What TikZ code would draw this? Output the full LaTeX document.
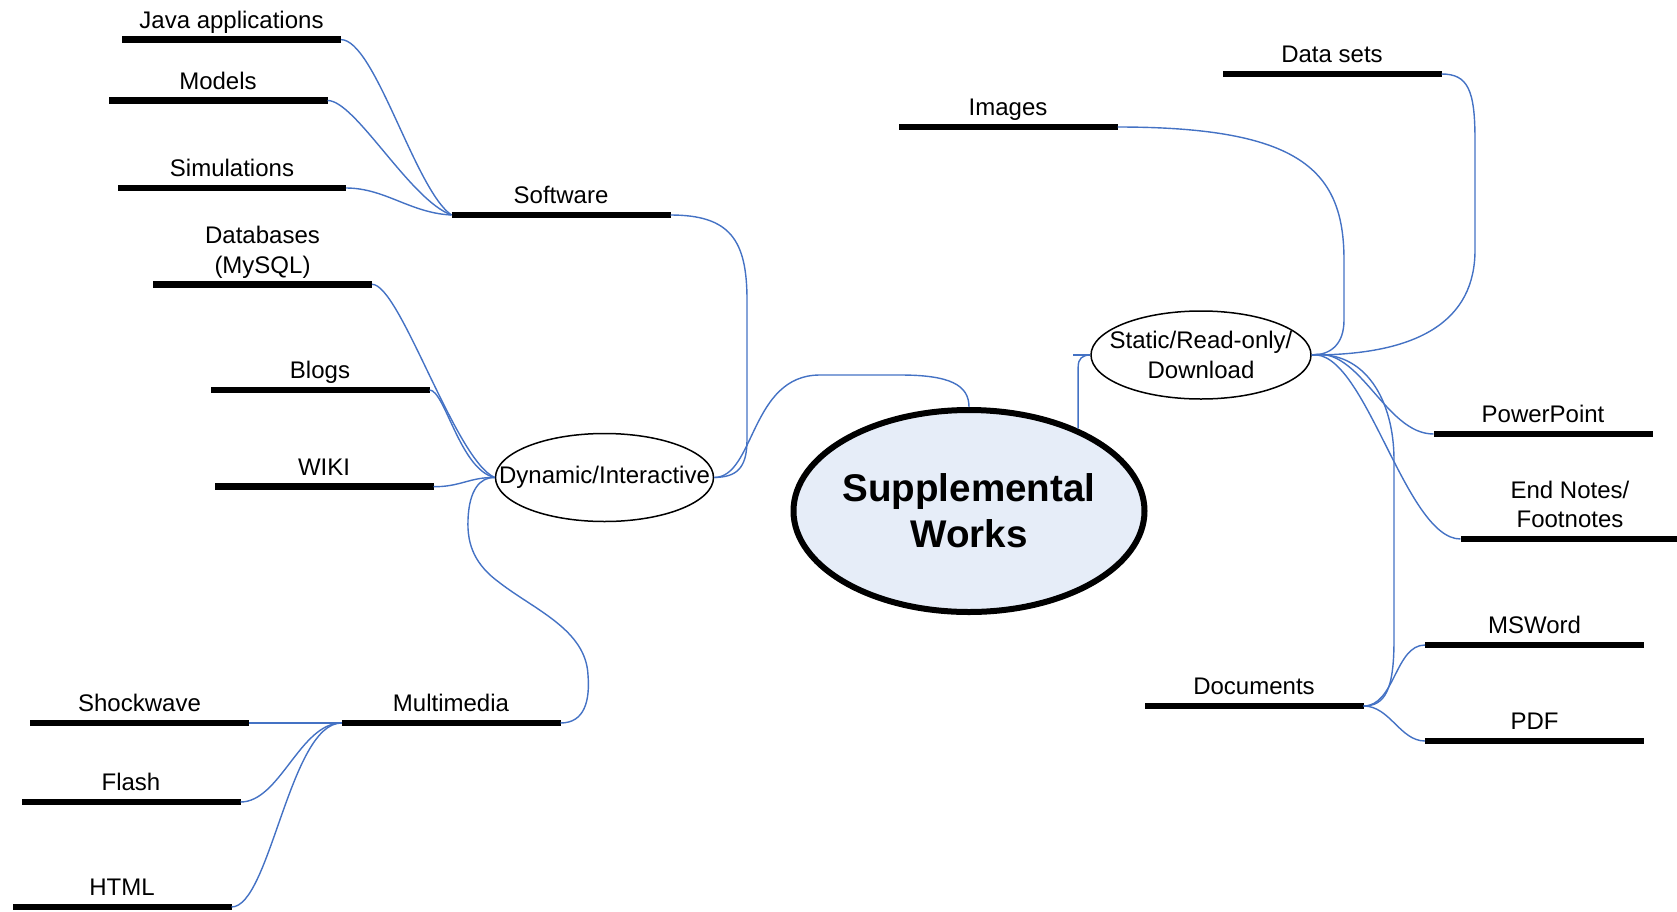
\documentclass[tikz,border=0pt]{standalone}
\usepackage{fontspec}
\setmainfont{Liberation Sans}
\usetikzlibrary{shapes.geometric}
\definecolor{linkblue}{RGB}{68,114,196}
\definecolor{corefill}{RGB}{230,237,248}
\begin{document}
\begin{tikzpicture}[x=0.5pt,y=-0.5pt,
  conn/.style={draw=linkblue, line width=0.7pt},
  bar/.style={fill=black, inner sep=0pt, outer sep=0pt, minimum width=109.5pt, minimum height=3.3pt, label distance=1.9pt},
  lbl/.style={font=\fontsize{12}{15}\selectfont, inner sep=0pt, text depth=0.22em, yshift=1.6pt},
  lbltwo/.style={font=\fontsize{12}{14.8}\selectfont, inner sep=0pt, align=center},
  bubble/.style={ellipse, draw=black, line width=0.75pt, inner sep=0pt, font=\fontsize{12}{15}\selectfont, align=center},
]
\useasboundingbox (0,0) rectangle (1677,911);

% core
\node[ellipse, draw=black, fill=corefill, line width=3pt, minimum width=175.5pt, minimum height=101pt, inner sep=0pt,
      font=\fontsize{19.3}{23}\selectfont\bfseries, align=center] (sw) at (969,511)
      {\makebox[0pt]{Supplemental}\\\makebox[0pt]{Works}};

% second level
\node[bubble, minimum width=109pt, minimum height=44pt] (dyn) at (604.5,477.5) {\makebox[0pt]{Dynamic/Interactive}};
\node[bubble, minimum width=110pt, minimum height=44pt] (st) at (1201,355) {\makebox[0pt]{Static/Read-only/}\\\makebox[0pt]{Download}};

% bars, left
\node[bar, label={[lbl,name=javaL]above:Java applications}] (java) at (231.5,39.6) {};
\node[bar, label={[lbl,name=modelsL]above:Models}] (models) at (218,100.5) {};
\node[bar, minimum width=114pt, label={[lbl,name=simL]above:Simulations}] (sim) at (232,188) {};
\node[bar, label={[lbl,name=softL]above:Software}] (soft) at (561,215) {};
\node[bar, label={[lbltwo,name=dbL,yshift=1.1pt]above:{Databases\\(MySQL)}}] (db) at (262.5,284.3) {};
\node[bar, label={[lbl,name=blogsL]above:Blogs}] (blogs) at (320,390) {};
\node[bar, label={[lbl,name=wikiL]above:WIKI}] (wiki) at (324,486.7) {};
\node[bar, label={[lbl,name=mmL]above:Multimedia}] (mm) at (451,723) {};
\node[bar, label={[lbl,name=shL]above:Shockwave}] (sh) at (139.5,723) {};
\node[bar, label={[lbl,name=flL]above:Flash}] (fl) at (131,802) {};
\node[bar, label={[lbl,name=htL]above:HTML}] (ht) at (122,907) {};

% bars, right
\node[bar, label={[lbl,name=imgL]above:Images}] (img) at (1008,127) {};
\node[bar, label={[lbl,name=dsL]above:Data sets}] (ds) at (1332,74) {};
\node[bar, label={[lbl,name=ppL]above:PowerPoint}] (pp) at (1543,434) {};
\node[bar, label={[lbltwo,name=enL,yshift=3.7pt]above:{End Notes/\\Footnotes}}] (en) at (1570,539) {};
\node[bar, label={[lbl,name=msL]above:MSWord}] (ms) at (1534.5,645) {};
\node[bar, label={[lbl,name=docL]above:Documents}] (doc) at (1254,706) {};
\node[bar, label={[lbl,name=pdfL]above:PDF}] (pdf) at (1534.5,741) {};

% connectors: core
\draw[conn] (dyn.east) .. controls (755,477) and (750,375) .. (820,375) -- (900,375)
  .. controls (950,375) and (969,385) .. (sw.north);
\coordinate (stub) at ([xshift=-8.5pt]st.west);
\draw[conn] (stub) -- (st.west);
\draw[conn] (sw.37) -- ++(0,-62) .. controls +(0,-8) and +(-8,0) .. (st.west);

% software branch
\draw[conn] (java.east) .. controls (375,40) and (415,190) .. (soft.west);
\draw[conn] (models.east) .. controls (355,100) and (410,200) .. (soft.west);
\draw[conn] (sim.east) .. controls (385,188) and (410,213) .. (soft.west);
\draw[conn] (soft.east) .. controls (730,215) and (747,240) .. (747,300) -- (747,440)
  .. controls (747,470) and (735,477) .. (dyn.east);

% dynamic branch
\draw[conn] (db.east) .. controls (400,284) and (455,460) .. (dyn.west);
\draw[conn] (blogs.east) .. controls (445,390) and (460,470) .. (dyn.west);
\draw[conn] (wiki.east) .. controls (460,487) and (470,477) .. (dyn.west);
\draw[conn] (mm.east) .. controls (585,723) and (590,700) .. (588,675)
  .. controls (586,630) and (535,610) .. (500,583)
  .. controls (475,565) and (467,545) .. (468,520)
  .. controls (469,490) and (480,477) .. (dyn.west);

% multimedia branch
\draw[conn] (sh.east) -- (mm.west);
\draw[conn] (fl.east) .. controls (280,802) and (300,723) .. (mm.west);
\draw[conn] (ht.east) .. controls (270,907) and (290,723) .. (mm.west);

% static branch
\draw[conn] (img.east) .. controls (1300,127) and (1344,170) .. (1344,260) -- (1344,320)
  .. controls (1344,345) and (1330,355) .. (st.east);
\draw[conn] (ds.east) .. controls (1468,74) and (1475,90) .. (1475,140) -- (1475,250)
  .. controls (1475,320) and (1420,355) .. (st.east);
\draw[conn] (st.east) .. controls (1360,345) and (1385,434) .. (pp.west);
\draw[conn] (st.east) .. controls (1365,348) and (1405,539) .. (en.west);
\draw[conn] (st.east) .. controls (1365,350) and (1394,400) .. (1394,460) -- (1394,640)
  .. controls (1394,690) and (1385,706) .. (doc.east);

% documents branch
\draw[conn] (doc.east) .. controls (1395,706) and (1395,645) .. (ms.west);
\draw[conn] (doc.east) .. controls (1390,706) and (1400,741) .. (pdf.west);
\end{tikzpicture}
\end{document}
